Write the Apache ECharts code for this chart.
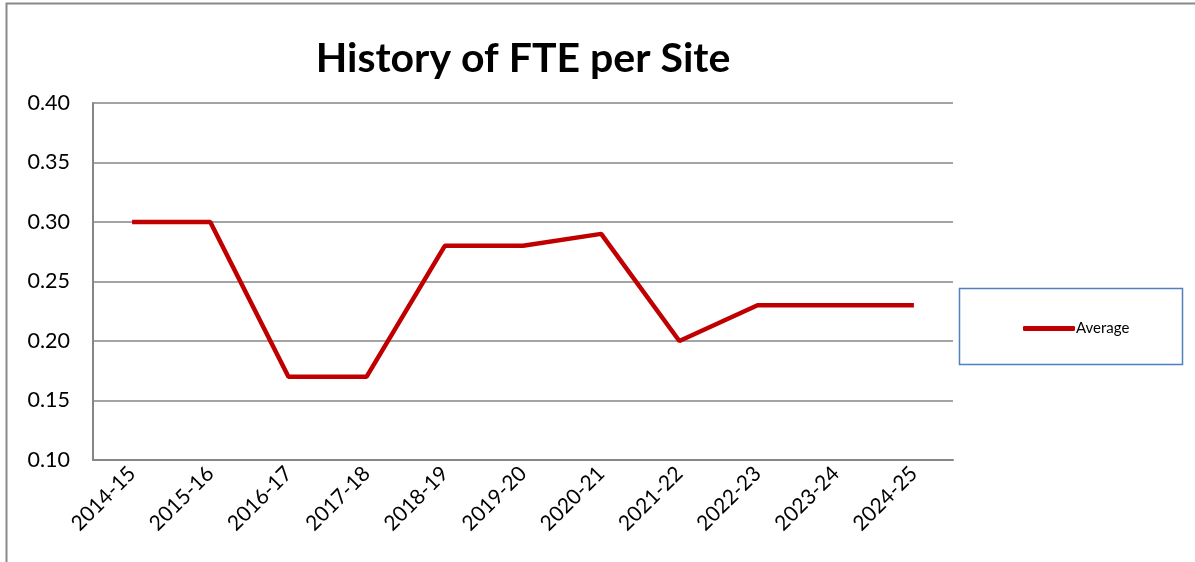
<!DOCTYPE html>
<html>
<head>
<meta charset="utf-8">
<script src="https://cdn.jsdelivr.net/npm/echarts@6/dist/echarts.min.js"></script>
<style>
  html, body { margin: 0; padding: 0; background: #fff; }
  #chart { width: 1195px; height: 562px; }
</style>
</head>
<body>
<div id="chart"></div>
<script>
var years = ['2014-15', '2015-16', '2016-17', '2017-18', '2018-19', '2019-20',
             '2020-21', '2021-22', '2022-23', '2023-24', '2024-25'];
var average = [0.30, 0.30, 0.17, 0.17, 0.28, 0.28, 0.29, 0.20, 0.23, 0.23, 0.23];

var font = 'Lato, "Open Sans", sans-serif';

var myChart = echarts.init(document.getElementById('chart'));

var option = {
    animation: false,
    title: {
        text: 'History of FTE per Site',
        left: 518,
        top: 33,
        textAlign: 'center',
        textStyle: { fontFamily: font, fontSize: 41, fontWeight: 'bold', color: '#000' }
    },
    graphic: [
        {
            type: 'rect',
            shape: { x: 6.5, y: 3.5, width: 1200, height: 580 },
            style: { fill: 'none', stroke: '#898989', lineWidth: 2 },
            silent: true
        },
        {
            type: 'rect',
            shape: { x: 959.5, y: 288.5, width: 223, height: 76 },
            style: { fill: 'none', stroke: '#4f81bd', lineWidth: 1.5 },
            silent: true
        }
    ],
    legend: {
        left: 1018,
        top: 316,
        itemWidth: 52,
        itemHeight: 5,
        itemGap: 4,
        icon: 'roundRect',
        textStyle: { fontFamily: font, fontSize: 15, color: '#000', padding: [0, 0, 0, -4] },
        data: ['Average']
    },
    grid: { left: 93, right: 242, top: 103, bottom: 102 },
    xAxis: {
        type: 'category',
        data: years,
        boundaryGap: true,
        axisLine: { lineStyle: { color: '#868686', width: 2 } },
        axisTick: { show: false },
        axisLabel: { rotate: 45, fontFamily: font, fontSize: 21, color: '#000', margin: 10, interval: 0 }
    },
    yAxis: {
        type: 'value',
        min: 0.10,
        max: 0.40,
        interval: 0.05,
        axisLine: { show: true, lineStyle: { color: '#868686', width: 2 } },
        axisTick: { show: false },
        splitLine: { lineStyle: { color: '#868686', width: 1.5 } },
        axisLabel: {
            fontFamily: font, fontSize: 21.5, color: '#000', margin: 23,
            formatter: function (v) { return v.toFixed(2); }
        }
    },
    series: [{
        name: 'Average',
        type: 'line',
        data: average,
        showSymbol: false,
        symbol: 'none',
        color: '#c00000',
        lineStyle: { color: '#c00000', width: 4.5 }
    }]
};

myChart.setOption(option);
</script>
</body>
</html>
